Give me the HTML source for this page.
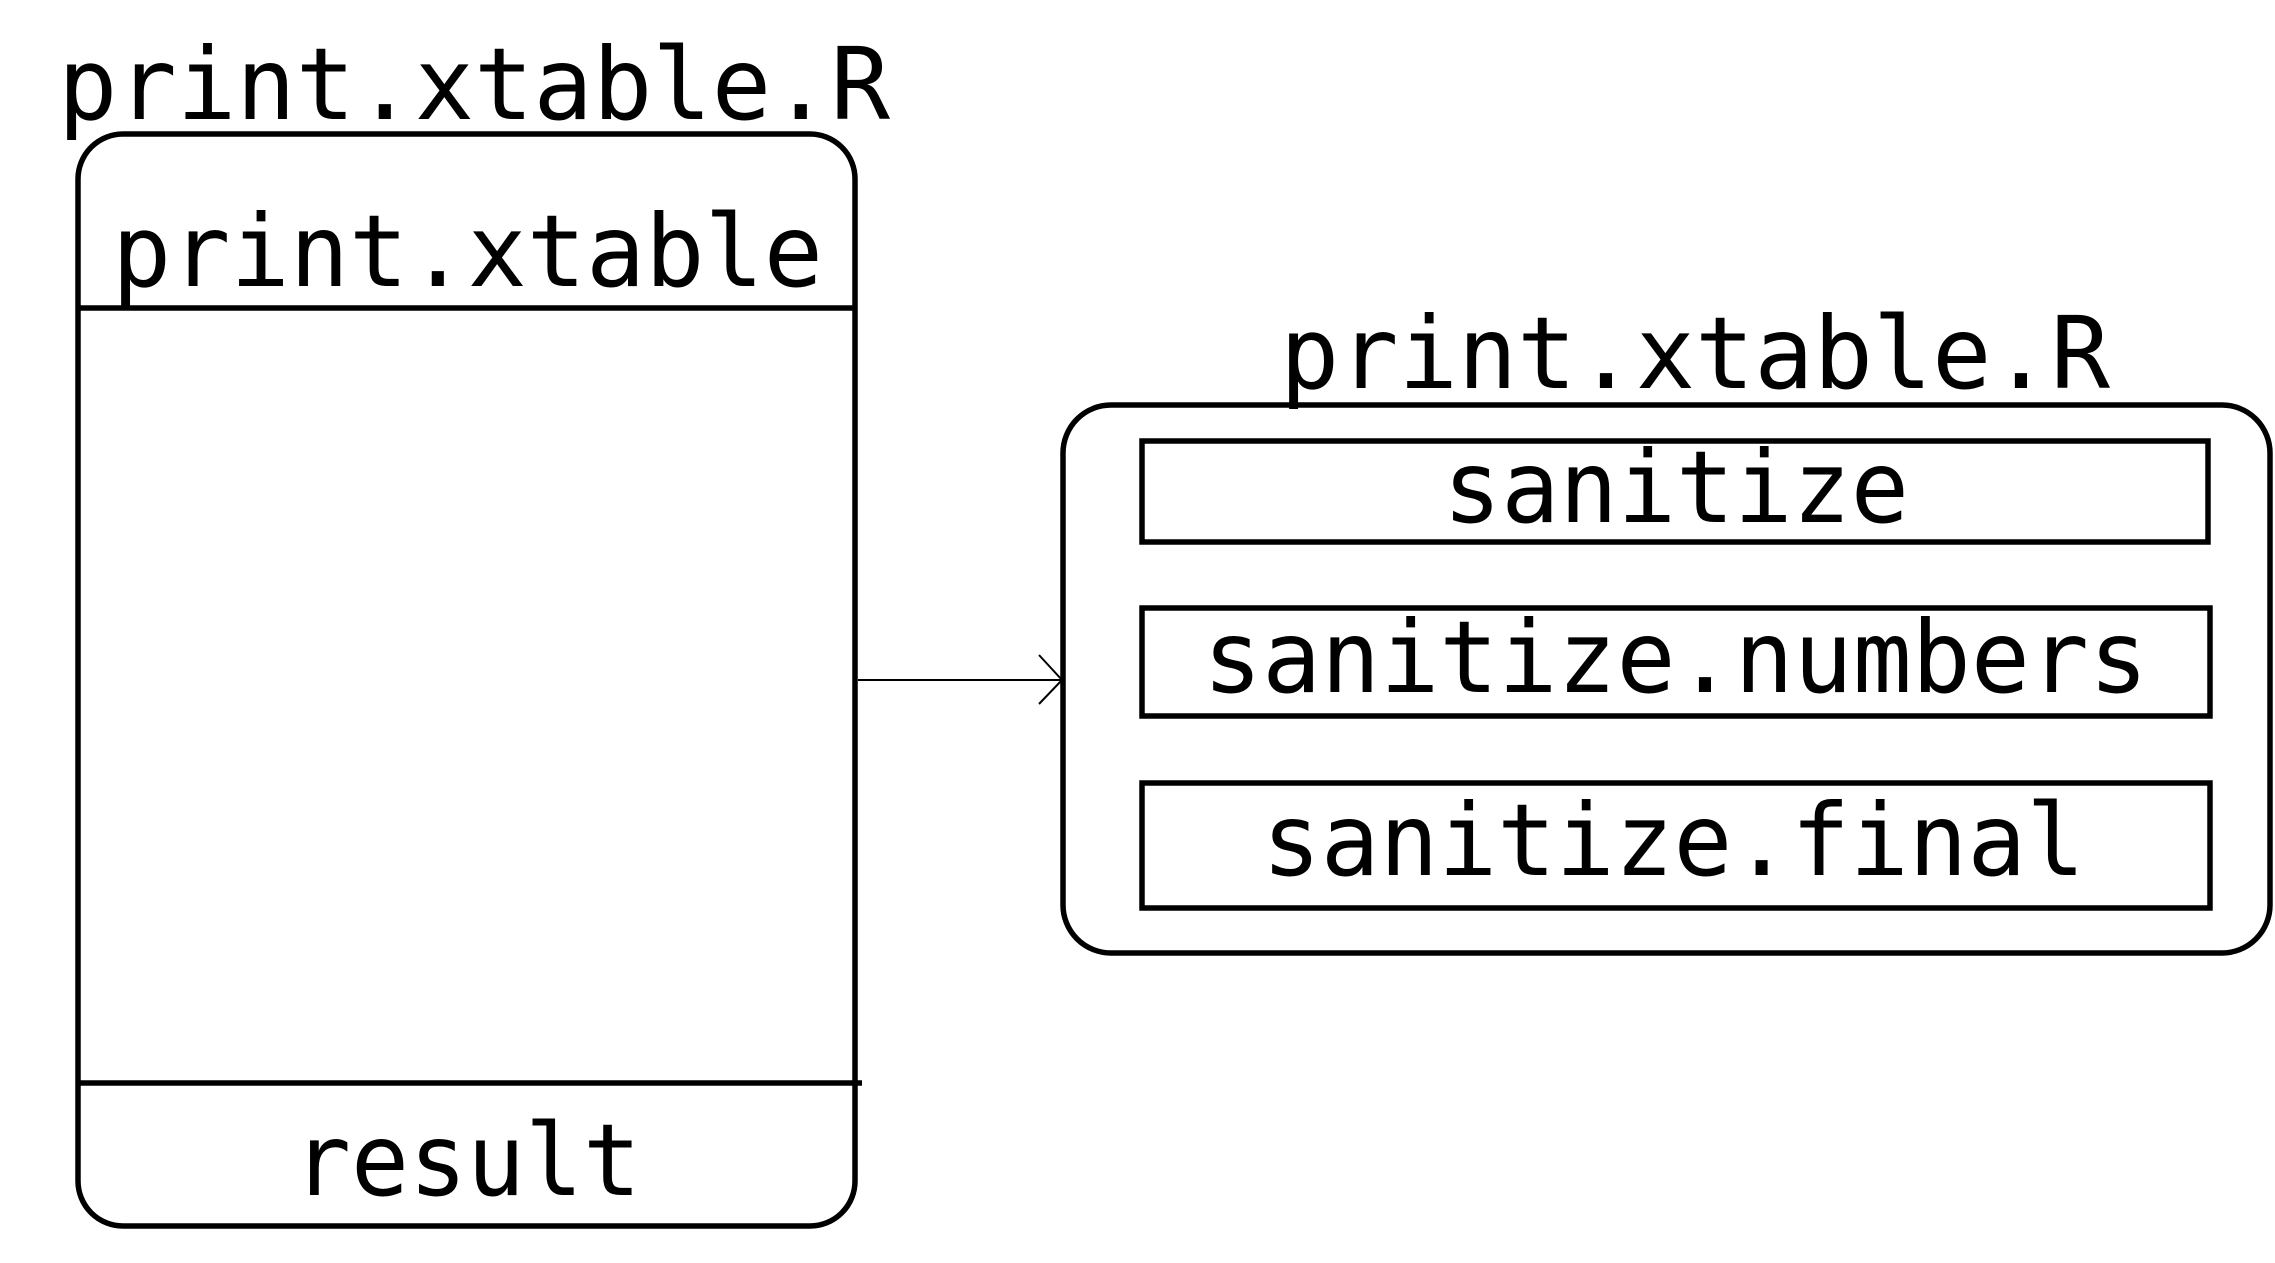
<!DOCTYPE html>
<html><head><meta charset="utf-8"><style>html,body{margin:0;padding:0;background:#fff}svg{display:block}</style></head>
<body>
<svg width="2275" height="1263" viewBox="0 0 2275 1263" xmlns="http://www.w3.org/2000/svg">
<g font-family="DejaVu Sans Mono, Liberation Mono, monospace" font-size="100" fill="#000">
<text x="58" y="119" textLength="832" lengthAdjust="spacingAndGlyphs">print.xtable.R</text>
<text x="112" y="286" textLength="711" lengthAdjust="spacingAndGlyphs">print.xtable</text>
<text x="293" y="1195" textLength="348" lengthAdjust="spacingAndGlyphs">result</text>
<text x="1280" y="388" textLength="830" lengthAdjust="spacingAndGlyphs">print.xtable.R</text>
<text x="1443" y="522" textLength="466" lengthAdjust="spacingAndGlyphs">sanitize</text>
<text x="1203" y="692" textLength="945" lengthAdjust="spacingAndGlyphs">sanitize.numbers</text>
<text x="1262" y="875" textLength="823" lengthAdjust="spacingAndGlyphs">sanitize.final</text>
</g>
<g fill="none" stroke="#000" stroke-width="5.5">
<rect x="78" y="134" width="777" height="1092" rx="45" ry="45"/>
<line x1="78" y1="308" x2="855" y2="308"/>
<line x1="78" y1="1083" x2="862" y2="1083"/>
<rect x="1063" y="405" width="1207" height="548" rx="48" ry="48"/>
<rect x="1142" y="441" width="1066" height="101"/>
<rect x="1142" y="608" width="1068" height="108"/>
<rect x="1142" y="783" width="1068" height="125"/>
</g>
<g fill="none" stroke="#000" stroke-width="2">
<line x1="858" y1="680" x2="1062" y2="680"/>
<polyline points="1039,655 1062,680 1039,704"/>
</g>
</svg>
</body></html>
